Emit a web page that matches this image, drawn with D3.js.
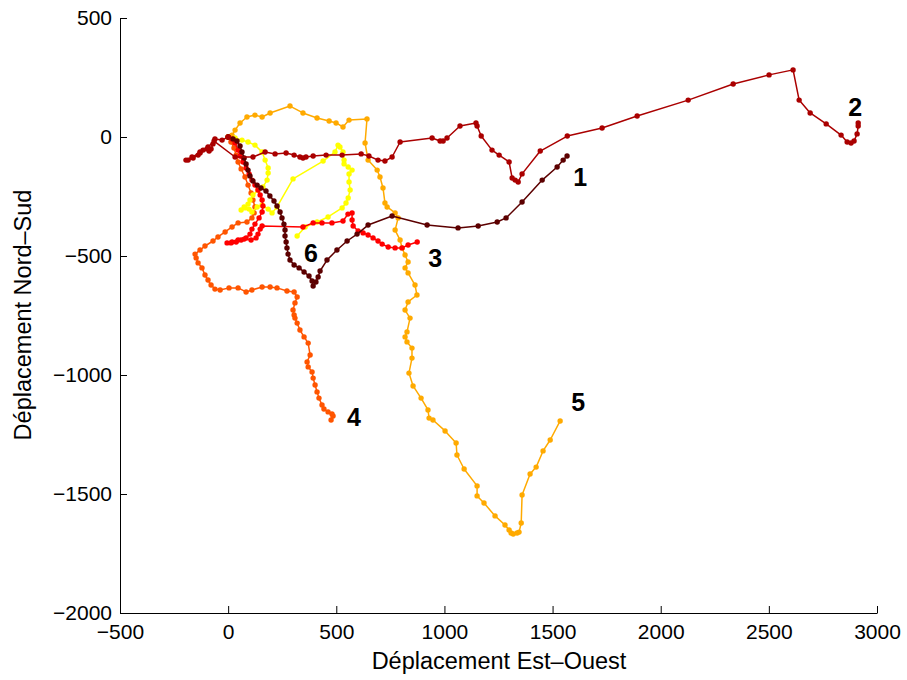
<!DOCTYPE html>
<html><head><meta charset="utf-8">
<script src="https://cdn.jsdelivr.net/npm/d3@7"></script>
<style>
html,body{margin:0;padding:0;background:#fff;}
svg{display:block;font-family:"Liberation Sans",Arial,Helvetica,sans-serif;}
</style></head>
<body>
<svg id="chart" width="907" height="680"></svg>
<script>
// ---- data (displacement East-West, North-South) ----
const trackNames = ["1","2","3","4","5","6"];
const trackColors = ["#5c0000","#aa0000","#ff0000","#ff5500","#ffaa00","#ffff00"];

const track1 = [[0,0],[23,-8],[41,-17],[55,-38],[64,-63],[74,-88],[83,-113],[92,-139],[101,-164],[115,-185],[134,-202],[152,-214],[175,-227],[193,-248],[212,-269],[226,-290],[240,-315],[249,-340],[258,-366],[263,-391],[263,-416],[268,-441],[272,-466],[277,-492],[286,-517],[305,-538],[328,-550],[351,-567],[374,-584],[388,-605],[393,-626],[406,-609],[416,-588],[425,-563],[457,-517],[503,-475],[550,-437],[596,-408],[647,-370],[758,-332],[920,-370],[1063,-382],[1156,-374],[1244,-357],[1285,-340],[1359,-273],[1452,-181],[1521,-126],[1549,-97],[1567,-80]];

const track2 = [[0,0],[-28,-13],[-61,-8],[-70,-29],[-79,-50],[-88,-59],[-98,-50],[-116,-55],[-130,-63],[-139,-76],[-162,-88],[-185,-97],[-195,-97],[-167,-84],[-130,-67],[-93,-42],[-65,-17],[32,-84],[115,-84],[171,-63],[217,-71],[268,-67],[305,-76],[332,-84],[346,-88],[360,-84],[393,-80],[453,-76],[527,-76],[615,-71],[651,-80],[693,-97],[725,-101],[758,-84],[795,-21],[943,-4],[980,-17],[994,-17],[1012,-4],[1072,46],[1146,59],[1151,46],[1170,4],[1220,-55],[1253,-76],[1299,-105],[1313,-172],[1327,-181],[1341,-189],[1359,-155],[1443,-59],[1568,4],[1729,38],[1891,88],[2127,155],[2335,223],[2501,261],[2612,282],[2640,155],[2691,101],[2765,55],[2834,8],[2862,-21],[2880,-25],[2894,-17],[2908,13],[2913,46],[2913,59]];

const track3 = [[0,0],[18,-8],[32,-25],[46,-55],[55,-80],[69,-105],[83,-130],[97,-155],[110,-181],[124,-202],[138,-223],[148,-244],[157,-265],[161,-290],[157,-315],[143,-340],[124,-366],[110,-387],[101,-408],[83,-424],[60,-433],[37,-441],[13,-445],[-5,-445],[18,-441],[46,-433],[74,-429],[106,-433],[129,-424],[138,-408],[148,-387],[157,-374],[346,-378],[393,-361],[434,-361],[480,-361],[531,-353],[554,-324],[573,-319],[573,-349],[578,-374],[601,-395],[624,-403],[647,-412],[670,-424],[693,-437],[712,-450],[740,-462],[772,-466],[804,-466],[832,-454],[874,-441]];

const track4 = [[0,0],[13,-21],[27,-46],[37,-76],[46,-105],[60,-134],[78,-168],[92,-202],[106,-235],[115,-265],[124,-294],[120,-319],[110,-340],[87,-357],[46,-361],[18,-378],[-14,-399],[-47,-420],[-70,-437],[-107,-458],[-130,-475],[-153,-492],[-148,-508],[-139,-529],[-121,-550],[-107,-580],[-93,-601],[-79,-622],[-61,-639],[-37,-643],[4,-634],[46,-634],[83,-651],[110,-643],[157,-630],[194,-630],[226,-634],[272,-647],[305,-651],[319,-672],[309,-697],[300,-727],[305,-748],[309,-761],[319,-782],[332,-811],[351,-840],[370,-866],[379,-916],[365,-945],[370,-966],[388,-987],[393,-1013],[402,-1042],[411,-1071],[420,-1097],[434,-1126],[443,-1143],[462,-1155],[480,-1164],[485,-1172],[476,-1189]];

const track5 = [[0,0],[18,8],[32,29],[55,59],[87,84],[124,92],[157,84],[194,101],[286,130],[346,101],[411,80],[467,67],[499,59],[531,42],[559,71],[642,76],[633,-25],[647,-97],[689,-139],[702,-168],[716,-214],[725,-277],[735,-294],[772,-319],[786,-340],[772,-391],[795,-433],[804,-466],[818,-496],[832,-525],[818,-550],[832,-571],[864,-622],[873,-664],[832,-693],[818,-727],[841,-761],[827,-819],[818,-840],[827,-861],[850,-887],[850,-929],[836,-992],[855,-1046],[892,-1097],[924,-1147],[929,-1181],[947,-1189],[1003,-1235],[1054,-1286],[1058,-1336],[1091,-1395],[1151,-1466],[1151,-1508],[1183,-1538],[1234,-1592],[1280,-1630],[1299,-1651],[1308,-1664],[1318,-1668],[1336,-1664],[1345,-1660],[1355,-1622],[1359,-1504],[1396,-1416],[1424,-1387],[1456,-1319],[1489,-1273],[1535,-1193]];

const track6 = [[0,0],[32,-4],[64,-13],[92,-21],[124,-34],[157,-63],[171,-97],[185,-130],[185,-151],[180,-181],[161,-210],[138,-223],[115,-244],[101,-265],[92,-282],[78,-298],[60,-307],[74,-294],[97,-303],[110,-315],[134,-294],[157,-286],[185,-303],[203,-319],[226,-294],[300,-176],[439,-101],[494,-63],[508,-34],[517,-42],[531,-63],[536,-97],[536,-113],[555,-126],[573,-139],[559,-155],[559,-189],[564,-223],[555,-256],[545,-277],[527,-298],[462,-336],[411,-357],[356,-378],[319,-416]];

const tracks = [track1, track2, track3, track4, track5, track6];
// label anchor positions (data units)
const labelX = [1628, 2899, 957, 582, 1618, 383];
const labelY = [-168, 126, -508, -1176, -1113, -487];

const xTicks = [-500,0,500,1000,1500,2000,2500,3000];
const yTicks = [-2000,-1500,-1000,-500,0,500];
const xLabel = "Déplacement Est–Ouest";
const yLabel = "Déplacement Nord–Sud";

// ---- drawing ----
const svg = d3.select("#chart");
const x = d3.scaleLinear().domain([-500,3000]).range([120,877]);
const y = d3.scaleLinear().domain([-2000,500]).range([613,18]);
const fmt = d => (d < 0 ? "\u2212" + Math.abs(d) : String(d));

const line = d3.line().x(d => x(d[0])).y(d => y(d[1]));
const order = [4,3,5,2,0,1];
order.forEach(i => {
  const g = svg.append("g");
  g.append("path").datum(tracks[i]).attr("d", line)
    .attr("fill","none").attr("stroke", trackColors[i]).attr("stroke-width",1.5)
    .attr("stroke-linejoin","round");
  g.selectAll("circle").data(tracks[i]).join("circle")
    .attr("cx", d => x(d[0])).attr("cy", d => y(d[1])).attr("r", 2.7)
    .attr("fill", trackColors[i]);
});

// labels
svg.append("g").selectAll("text").data(trackNames).join("text")
  .attr("x", (d,i) => x(labelX[i])).attr("y", (d,i) => y(labelY[i]))
  .attr("text-anchor","middle").attr("dominant-baseline","central")
  .attr("font-size", 25).attr("font-weight","bold").attr("fill","#000")
  .text(d => d);

// axes
const xAxis = d3.axisBottom(x).tickValues(xTicks).tickFormat(fmt).tickSizeInner(-7).tickSizeOuter(0).tickPadding(11);
const yAxis = d3.axisLeft(y).tickValues(yTicks).tickFormat(fmt).tickSizeInner(-7).tickSizeOuter(0).tickPadding(8);
const gx = svg.append("g").attr("transform","translate(0,613)").call(xAxis);
const gy = svg.append("g").attr("transform","translate(120,0)").call(yAxis);
[gx, gy].forEach(g => {
  g.select(".domain").attr("stroke","#000").attr("stroke-width",1);
  g.selectAll(".tick line").attr("stroke","#000");
  g.selectAll(".tick text").attr("font-size",21).attr("fill","#000")
    .attr("font-family","'Liberation Sans',Arial,sans-serif");
});
gx.selectAll(".tick text").attr("dy","0.71em");

svg.append("text").attr("x", 499).attr("y", 669).attr("text-anchor","middle")
  .attr("font-size",23.5).attr("fill","#000").text(xLabel);
svg.append("text").attr("transform","translate(31,315) rotate(-90)").attr("text-anchor","middle")
  .attr("font-size",23.5).attr("fill","#000").text(yLabel);
</script>
</body></html>
